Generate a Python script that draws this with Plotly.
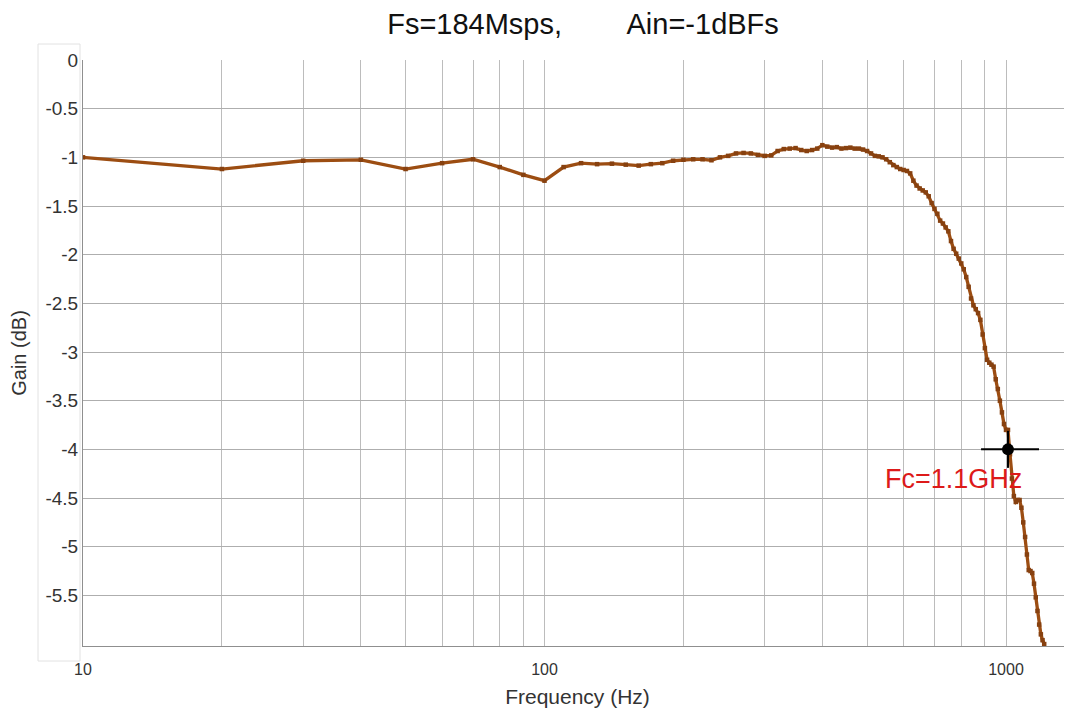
import plotly.graph_objects as go
import numpy as np

# ---- data ----
freq_low = [10, 20, 30, 40, 50, 60, 70, 80, 90]
gain_low = [-1.00, -1.12, -1.035, -1.025, -1.12, -1.06, -1.02, -1.10, -1.18]

freq_high = list(range(100, 1220, 10))
gain_high = [
    -1.24, -1.10, -1.06, -1.07, -1.065, -1.075, -1.085, -1.07, -1.06, -1.035,   # 100-190
    -1.025, -1.02, -1.02, -1.03, -1.00, -0.985, -0.96, -0.955, -0.96, -0.975,    # 200-290
    -0.985, -0.98, -0.935, -0.915, -0.91, -0.905, -0.925, -0.935, -0.925, -0.91,  # 300-390
    -0.875, -0.89, -0.90, -0.895, -0.91, -0.905, -0.90, -0.91, -0.91, -0.92,     # 400-490
    -0.935, -0.96, -0.985, -0.99, -1.00, -1.02, -1.05, -1.08, -1.10, -1.12,      # 500-590
    -1.13, -1.14, -1.165, -1.24, -1.29, -1.32, -1.34, -1.36, -1.40, -1.47,       # 600-690
    -1.53, -1.58, -1.65, -1.68, -1.72, -1.76, -1.86, -1.94, -1.99, -2.04,        # 700-790
    -2.09, -2.15, -2.23, -2.33, -2.45, -2.52, -2.56, -2.60, -2.67, -2.82,        # 800-890
    -2.96, -3.08, -3.11, -3.13, -3.15, -3.28, -3.38, -3.50, -3.62, -3.74,        # 900-990
    -3.80, -3.80, -4.05, -4.30, -4.48, -4.54, -4.52, -4.52, -4.60, -4.75,        # 1000-1090
    -4.90, -5.08, -5.24, -5.25, -5.27, -5.38, -5.52, -5.66, -5.80, -5.90,        # 1100-1190
    -5.96, -6.00,                                                                # 1200-1210
]

freq = freq_low + freq_high
gain = gain_low + gain_high

fc_freq = [1010]
fc_gain = [-4.0]
fc_err_plus_x = [169]
fc_err_minus_x = [127]
fc_err_y = [0.19]

grid_vals = [10, 20, 30, 40, 50, 60, 70, 80, 90,
             100, 200, 300, 400, 500, 600, 700, 800, 900, 1000]
grid_text = ["10"] + [""] * 8 + ["100"] + [""] * 8 + ["1000"]
y_ticks = [0, -0.5, -1, -1.5, -2, -2.5, -3, -3.5, -4, -4.5, -5, -5.5]
y_text = ["0", "-0.5", "-1", "-1.5", "-2", "-2.5", "-3", "-3.5", "-4", "-4.5", "-5", "-5.5"]

LINE_COL = "#9c4d12"
FONT = "Arial, Liberation Sans, sans-serif"

# the page body adds an 8px offset; size the figure to fill the window exactly
OFF = 8
W, H = 1072 - OFF, 713 - OFF
ml, mr, mt, mb = 83 - OFF, 0, 60 - OFF, 67
pw, ph = W - ml - mr, H - mt - mb

fig = go.Figure()
fig.add_trace(go.Scatter(
    x=freq, y=gain, mode="lines+markers",
    line=dict(color=LINE_COL, width=3.3),
    marker=dict(color="#874110", size=4.5, symbol="square"),
    showlegend=False, hoverinfo="x+y"))

fig.add_trace(go.Scatter(
    x=fc_freq, y=fc_gain, mode="markers",
    marker=dict(color="black", size=12),
    error_x=dict(type="data", symmetric=False, array=fc_err_plus_x,
                 arrayminus=fc_err_minus_x, color="black", thickness=2, width=0),
    error_y=dict(type="data", array=fc_err_y, color="black", thickness=2, width=0),
    showlegend=False))

fig.add_annotation(x=np.log10(fc_freq[0]), y=fc_gain[0], xref="x", yref="y",
                   text="Fc=1.1GHz", showarrow=False,
                   xshift=-54, yshift=-30,
                   font=dict(family=FONT, size=27, color="#dd1a1a"))

# light panel behind the y tick labels
fig.add_shape(type="rect", xref="paper", yref="paper", layer="below",
              x0=(38 - OFF - ml) / pw, x1=(80 - OFF - ml) / pw,
              y0=(H - mb - (661 - OFF)) / ph, y1=(H - mb - (44 - OFF)) / ph,
              line=dict(color="#e2e2e2", width=1), fillcolor="white")

fig.update_layout(
    width=W, height=H,
    margin=dict(l=ml, r=mr, t=mt, b=mb, autoexpand=False),
    paper_bgcolor="white", plot_bgcolor="white",
    font=dict(family=FONT, color="#222"),
    title=dict(text="Fs=184Msps," + "&nbsp;" * 8 + "Ain=-1dBFs",
               x=(583 - OFF) / W, xanchor="center", xref="container",
               y=1 - (23.5 - OFF) / H, yanchor="middle", yref="container",
               font=dict(size=29, color="#111", family=FONT)),
    xaxis=dict(type="log", range=[1, np.log10(1390)],
               tickmode="array", tickvals=grid_vals, ticktext=grid_text,
               showgrid=True, gridcolor="#bcbcbc", gridwidth=1,
               showline=True, linecolor="#8f8f8f", linewidth=1,
               ticks="outside", ticklen=9, tickcolor="rgba(0,0,0,0)",
               tickfont=dict(size=16, color="#333"),
               title=dict(text="Frequency (Hz)", standoff=12,
                          font=dict(size=21, color="#333")),
               zeroline=False, automargin=False),
    yaxis=dict(range=[-6.02, 0],
               tickmode="array", tickvals=y_ticks, ticktext=y_text,
               showgrid=True, gridcolor="#aeaeae", gridwidth=1,
               showline=True, linecolor="#8f8f8f", linewidth=1,
               ticks="",
               tickfont=dict(size=19, color="#333"),
               title=dict(text="Gain (dB)", standoff=14,
                          font=dict(size=20, color="#333")),
               zeroline=False, automargin=False),
)

fig.write_html("out.html")
